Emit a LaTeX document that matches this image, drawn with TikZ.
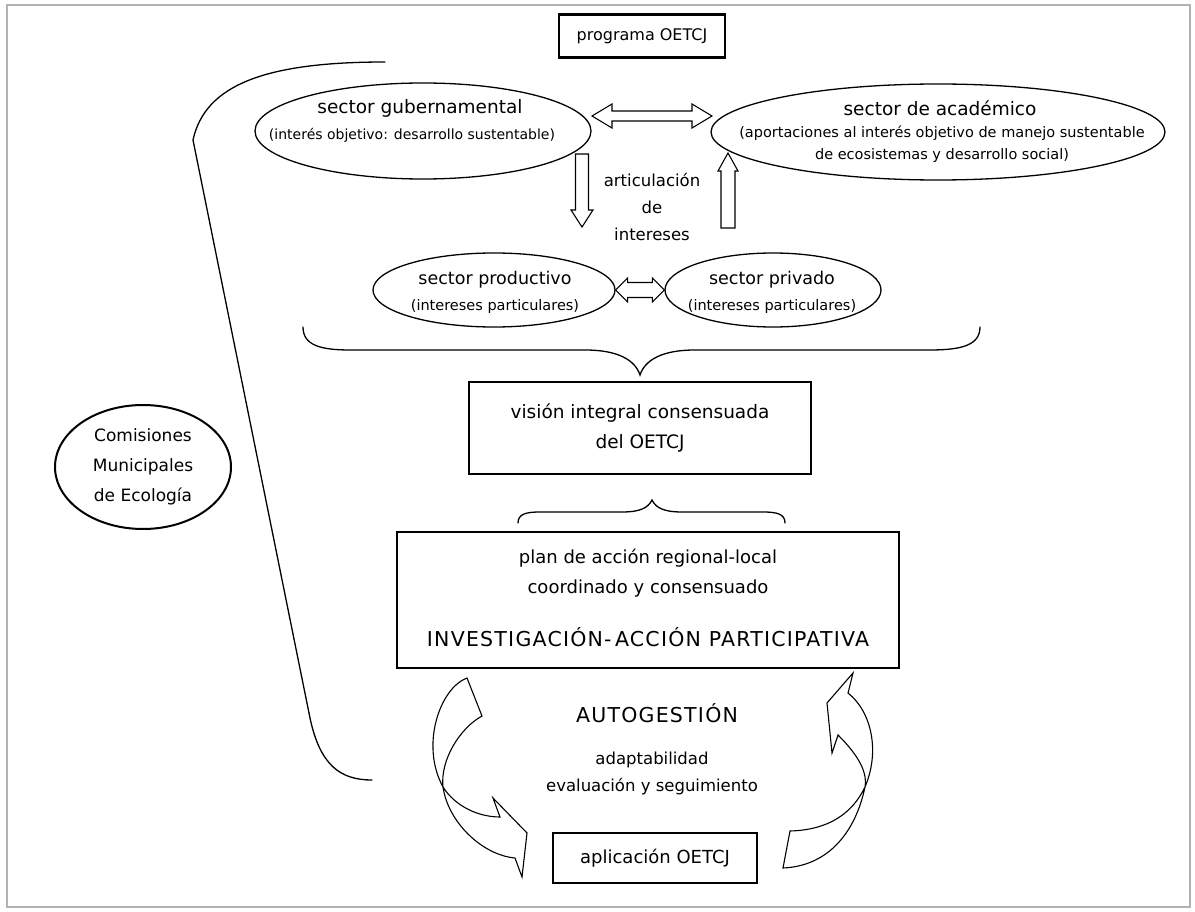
\documentclass[tikz,border=0pt]{standalone}
\usepackage{fontspec}
\setmainfont{DejaVu Sans}
\usetikzlibrary{shapes.geometric,calc}

\tikzset{
  frame/.style={draw=gray!60, line width=1.3pt},
  boxnode/.style={draw, line width=2.2pt, inner sep=0pt, align=center},
  ell/.style={draw, ellipse, line width=1.3pt, inner sep=0pt},
  blk/.style={draw, line width=1.1pt, fill=white, line join=miter},
  bracepath/.style={draw, line width=1.3pt, line cap=round},
  ttl/.style={font=\fontsize{18.5}{22}\selectfont, align=center},
  sub/.style={font=\fontsize{14.5}{22}\selectfont, align=center},
  mid/.style={font=\fontsize{16.5}{27}\selectfont, align=center},
  caps/.style={font=\fontsize{20.5}{24}\selectfont\addfontfeature{LetterSpace=6}, align=center},
}

% horizontal double block arrow: #1 left tip, #2 right tip, #3 shaft half width,
% #4 head half width, #5 head length
\newcommand\hdblarrow[5]{%
  \draw[blk] (#1) -- ($(#1)+(#5,-#4)$) -- ($(#1)+(#5,-#3)$) -- ($(#2)+(-#5,-#3)$)
    -- ($(#2)+(-#5,-#4)$) -- (#2) -- ($(#2)+(-#5,#4)$) -- ($(#2)+(-#5,#3)$)
    -- ($(#1)+(#5,#3)$) -- ($(#1)+(#5,#4)$) -- cycle;}

\begin{document}
\begin{tikzpicture}[x=1pt,y=-1pt]
\useasboundingbox (0,0) rectangle (1195,912);
\draw[frame] (7,5) rectangle (1190,907);

% top programme box
\node[boxnode, minimum width=166, minimum height=43, font=\fontsize{16}{20}\selectfont] (prog) at (642,36) {programa OETCJ};

% sector ellipses
\node[ell, minimum width=336, minimum height=96] (gub) at (423,131) {};
\node[ttl] (gubT) at (420,108) {sector gubernamental};
\node[sub, font=\fontsize{14}{22}\selectfont] (gubS) at (412,135) {(interés objetivo: desarrollo sustentable)};

\node[ell, minimum width=454, minimum height=96] (acad) at (938,132) {};
\node[ttl] (acadT) at (940,108) {sector de académico};
\node[sub] (acadS) at (942,144) {(aportaciones al interés objetivo de manejo sustentable\\de ecosistemas y desarrollo social)};

\node[ell, minimum width=242, minimum height=74] (prod) at (494,290) {};
\node[font=\fontsize{17.5}{20}\selectfont] (prodT) at (495,280) {sector productivo};
\node[sub] (prodS) at (495,307) {(intereses particulares)};

\node[ell, minimum width=216, minimum height=74] (priv) at (773,290) {};
\node[font=\fontsize{17.5}{20}\selectfont] (privT) at (772,280) {sector privado};
\node[sub] (privS) at (772,307) {(intereses particulares)};

% exchanges between sectors
\coordinate (haL) at (592,116);
\coordinate (haR) at (712,116);
\hdblarrow{haL}{haR}{5}{12}{20}
\coordinate (hbL) at (prod.east);
\coordinate (hbR) at (priv.west);
\hdblarrow{hbL}{hbR}{7.5}{12}{12}

\coordinate (dnT) at (582,154);
\coordinate (dnP) at (582,227);
\draw[blk] ($(dnT)+(-6.5,0)$) -- ($(dnP)+(-6.5,-17)$) -- ($(dnP)+(-11,-17)$) -- (dnP)
  -- ($(dnP)+(11,-17)$) -- ($(dnP)+(6.5,-17)$) -- ($(dnT)+(6.5,0)$) -- cycle;
\coordinate (upT) at (728,228);
\coordinate (upP) at (728,153);
\draw[blk] ($(upT)+(-7,0)$) -- ($(upP)+(-7,18)$) -- ($(upP)+(-10,18)$) -- (upP)
  -- ($(upP)+(10,18)$) -- ($(upP)+(7,18)$) -- ($(upT)+(7,0)$) -- cycle;

\node[mid] (artic) at (652,207) {articulación\\de\\intereses};

% braces
\coordinate (bbL) at (303,327);
\coordinate (bbTip) at (640,375);
\coordinate (bbR) at (980,327);
\draw[bracepath] (bbL) .. controls (303,345) and (320,350) .. (350,350) -- (585,350)
  .. controls (618,350) and (635,360) .. (bbTip)
  .. controls (645,360) and (662,350) .. (695,350) -- (930,350)
  .. controls (962,350) and (980,345) .. (bbR);

\node[boxnode, minimum width=342, minimum height=92, font=\fontsize{18.5}{30}\selectfont] (vision) at (640,428) {visión integral consensuada\\del OETCJ};

\coordinate (sbL) at (518,523);
\coordinate (sbTip) at (652,500);
\coordinate (sbR) at (785,523);
\draw[bracepath] (sbL) .. controls (518,514) and (526,512) .. (540,512) -- (622,512)
  .. controls (640,512) and (648,508) .. (sbTip)
  .. controls (656,508) and (664,512) .. (682,512) -- (763,512)
  .. controls (777,512) and (785,514) .. (sbR);

\node[boxnode, minimum width=502, minimum height=136] (plan) at (648,600) {};
\node[font=\fontsize{18}{30}\selectfont, align=center] (planT) at (648,573) {plan de acción regional-local\\coordinado y consensuado};
\node[caps] (inv) at (648,637) {INVESTIGACIÓN-\,ACCIÓN PARTICIPATIVA};

\node[caps] (auto) at (657,713) {AUTOGESTIÓN};
\node[mid] (adapt) at (652,773.5) {adaptabilidad\\evaluación y seguimiento};

\node[boxnode, minimum width=204, minimum height=50, font=\fontsize{18}{22}\selectfont] (apl) at (655,858) {aplicación OETCJ};

% municipal commissions
\node[ell, line width=2pt, minimum width=176, minimum height=124] (com) at (143,467) {};
\node[font=\fontsize{17}{30}\selectfont, align=center] (comT) at (143,467) {Comisiones\\Municipales\\de Ecología};

% long bracket on the left
\coordinate (lbTop) at (385,62);
\coordinate (lbBot) at (372,780);
\draw[bracepath] (lbTop) .. controls (265,62) and (205,85) .. (193,140) -- (310,718)
  .. controls (320,765) and (340,780) .. (lbBot);

% curved arrow: plan -> aplicacion
\coordinate (T1) at (467,678);
\coordinate (T2) at (482,716);
\coordinate (C) at (443,787);
\coordinate (S1) at (500,817);
\coordinate (S2) at (515,858);
\draw[blk] (T1) .. controls (440,688) and (420,745) .. (C)
  .. controls (455,806) and (478,817) .. (S1) -- (493,798) -- (527,833) -- (522,877) -- (S2)
  .. controls (482,855) and (448,822) .. (C)
  .. controls (440,760) and (460,728) .. (T2) -- cycle;

% curved arrow: aplicacion -> plan
\coordinate (TA) at (790,831);
\coordinate (TB) at (783,868);
\coordinate (X) at (865,787);
\coordinate (P1) at (848,693);
\coordinate (P2) at (838,735);
\draw[blk] (TA) .. controls (828,830) and (852,814) .. (X)
  .. controls (880,752) and (872,712) .. (P1) -- (853,673) -- (827,703) -- (832,753) -- (P2)
  .. controls (855,752) and (868,770) .. (X)
  .. controls (856,830) and (830,866) .. (TB) -- cycle;
\end{tikzpicture}
\end{document}
